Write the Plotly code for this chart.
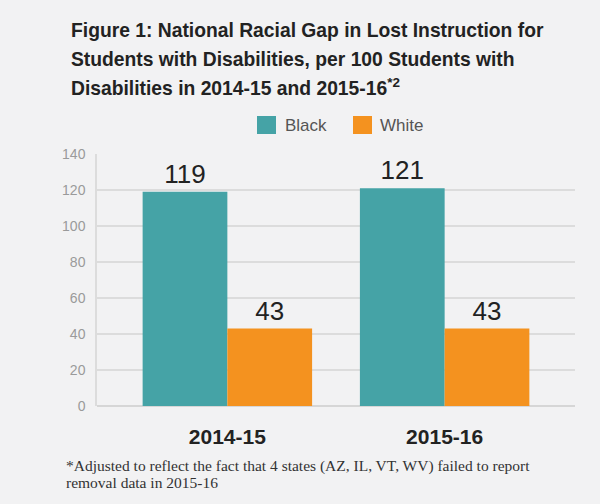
import plotly.graph_objects as go

years = ["2014-15", "2015-16"]
black = [119, 121]
white = [43, 43]
y_ticks = [0, 20, 40, 60, 80, 100, 120, 140]

title_lines = [
    "Figure 1: National Racial Gap in Lost Instruction for",
    "Students with Disabilities, per 100 Students with",
    "Disabilities in 2014-15 and 2015-16<sup>*2</sup>",
]
footnote_lines = [
    "*Adjusted to reflect the fact that 4 states (AZ, IL, VT, WV) failed to report",
    "removal data in 2015-16",
]

BG = "#f2f2f3"
TEAL = "#45a3a6"
ORANGE = "#f4921f"
SANS = "Liberation Sans, Arial, sans-serif"
SERIF = "Liberation Serif, Times New Roman, serif"

# plot area in page pixels
PX0, PX1, PY0, PY1 = 97, 575, 154, 406


def px(sx):
    return (sx - PX0) / (PX1 - PX0)


def py(sy):
    return (PY1 - sy) / (PY1 - PY0)


fig = go.Figure()
for name, vals, col in [("Black", black, TEAL), ("White", white, ORANGE)]:
    fig.add_trace(go.Bar(
        x=years, y=vals, name=name, marker=dict(color=col, line=dict(width=0)),
        text=[str(v) for v in vals], textposition="outside",
        textfont=dict(family=SANS, size=26, color="#222222"),
        cliponaxis=False, showlegend=False,
    ))

annotations = []
shapes = []
for i, line in enumerate(title_lines):
    annotations.append(dict(
        text="<b>" + line + "</b>", xref="paper", yref="paper",
        x=px(69), y=py(31 + 28 * i), xanchor="left", yanchor="middle", showarrow=False,
        font=dict(family=SANS, size=19.3, color="#222222"),
    ))
for i, line in enumerate(footnote_lines):
    annotations.append(dict(
        text=line, xref="paper", yref="paper",
        x=px(64), y=py(466 + 16 * i), xanchor="left", yanchor="middle", showarrow=False,
        font=dict(family=SERIF, size=15.5, color="#333333"),
    ))

# legend drawn by hand
legend_items = [("Black", TEAL, 257, 283), ("White", ORANGE, 353, 378)]
for name, col, sx, tx in legend_items:
    shapes.append(dict(type="rect", xref="paper", yref="paper",
                       x0=px(sx), x1=px(sx + 19), y0=py(116), y1=py(134),
                       fillcolor=col, line=dict(width=0)))
    annotations.append(dict(
        text=name, xref="paper", yref="paper", x=px(tx), y=py(125),
        xanchor="left", yanchor="middle", showarrow=False,
        font=dict(family=SANS, size=17, color="#555555"),
    ))

fig.update_layout(
    width=600, height=504,
    margin=dict(l=PX0, r=600 - PX1, t=PY0, b=504 - PY1),
    paper_bgcolor=BG, plot_bgcolor=BG,
    barmode="group", bargap=0.22, bargroupgap=0,
    showlegend=False,
    xaxis=dict(
        range=[-0.6, 1.6], showgrid=False, zeroline=False, showline=False,
        ticks="", ticklabelstandoff=16,
        tickfont=dict(family=SANS, size=21, color="#222222"),
        tickprefix="<b>", ticksuffix="</b>",
    ),
    yaxis=dict(
        range=[0, 140], tickvals=y_ticks, showgrid=True, gridcolor="#dcdcdc", gridwidth=1.5,
        zeroline=True, zerolinecolor="#d6d6d6", zerolinewidth=1.5,
        showline=True, linecolor="#dcdcdc", linewidth=1.5,
        ticks="", ticklabelstandoff=7,
        tickfont=dict(family=SANS, size=14, color="#9a9a9a"),
    ),
    annotations=annotations,
    shapes=shapes,
    hovermode=False,
)

fig.write_html(
    "out.html",
    config={"displayModeBar": False},
    post_script="document.body.style.margin='0';document.body.style.background='%s';" % BG,
)
